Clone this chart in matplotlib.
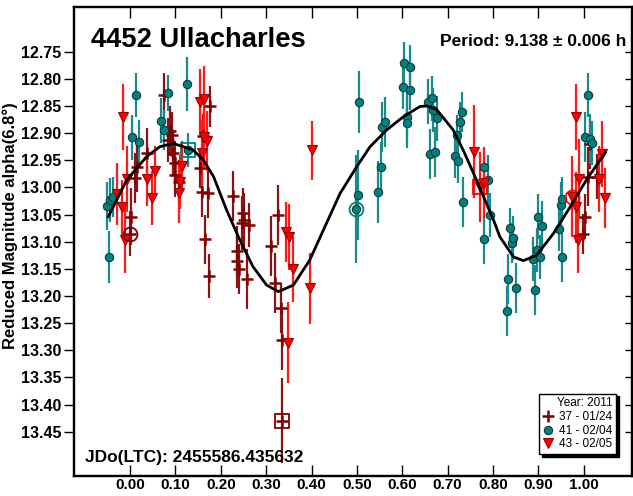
import matplotlib.pyplot as plt
from matplotlib.lines import Line2D

plt.rcParams['font.family'] = ['Liberation Sans', 'DejaVu Sans']

# session 37 - 01/24 (dark red plus)
s37_phase = [0.000, 0.002, 0.011, 0.015, 0.037, 0.075, 0.088, 0.092, 0.084, 0.099,
             0.095, 0.099, 0.108, 0.154, 0.160, 0.176, 0.158, 0.171, 0.165, 0.173,
             0.228, 0.248, 0.251, 0.246, 0.263, 0.235, 0.236, 0.241, 0.257, 0.310,
             0.327, 0.320, 0.332, 0.334, 0.336, 1.003, 0.999, 1.010, 1.028, 1.014]
s37_mag = [13.085, 13.054, 12.983, 12.962, 12.937, 12.830, 12.897, 12.903, 12.913, 12.956,
           12.937, 12.977, 12.990, 12.965, 12.905, 12.851, 13.008, 13.010, 13.096, 13.163,
           13.016, 13.048, 13.061, 13.066, 13.069, 13.117, 13.136, 13.151, 13.169, 13.108,
           13.051, 13.176, 13.223, 13.281, 13.430, 13.054, 13.086, 12.980, 12.980, 12.920]
s37_err = [0.041, 0.052, 0.046, 0.046, 0.046, 0.041, 0.046, 0.041, 0.041, 0.041,
           0.041, 0.041, 0.041, 0.037, 0.041, 0.037, 0.046, 0.046, 0.046, 0.041,
           0.046, 0.046, 0.050, 0.050, 0.041, 0.046, 0.050, 0.046, 0.055, 0.055,
           0.055, 0.055, 0.046, 0.055, 0.078, 0.041, 0.037, 0.055, 0.041, 0.046]
s37_circle = 0
s37_square = 34

# session 41 - 02/04 (teal circle)
s41_phase = [-0.050, -0.044, -0.038, -0.046, 0.013, 0.004, 0.019, 0.068, 0.083, 0.126,
             0.128, 0.075, 0.498, 0.502, 0.505, 0.547, 0.552, 0.555, 0.562, 0.601,
             0.604, 0.610, 0.610, 0.617, 0.617, 0.657, 0.661, 0.665, 0.672, 0.668,
             0.676, 0.716, 0.720, 0.722, 0.727, 0.731, 0.733, 0.781, 0.789, 0.793,
             0.781, 0.837, 0.841, 0.845, 0.834, 0.831, 0.851, 0.892, 0.889, 0.896,
             0.903, 0.900, 0.907, 0.946, 0.953, 0.949, 0.953, 1.003, 1.010, 1.014, 1.017]
s41_mag = [13.034, 13.023, 13.017, 13.128, 12.830, 12.908, 12.917, 12.877, 12.826, 12.810,
           12.931, 12.894, 13.040, 13.014, 12.843, 13.008, 12.963, 12.889, 12.880, 12.815,
           12.770, 12.870, 12.882, 12.778, 12.821, 12.842, 12.938, 12.836, 12.934, 12.857,
           12.873, 12.942, 12.903, 12.951, 12.879, 12.861, 13.027, 12.962, 12.986, 13.051,
           13.096, 13.075, 13.102, 13.093, 13.169, 13.227, 13.186, 13.189, 13.132, 13.115,
           13.128, 13.054, 13.072, 13.077, 13.129, 13.032, 13.022, 12.907, 12.830, 12.911, 12.918]
s41_err = [0.044, 0.041, 0.037, 0.048, 0.041, 0.041, 0.041, 0.041, 0.033, 0.050,
           0.031, 0.037, 0.100, 0.083, 0.057, 0.057, 0.046, 0.046, 0.046, 0.041,
           0.037, 0.046, 0.046, 0.041, 0.037, 0.041, 0.046, 0.041, 0.046, 0.041,
           0.041, 0.041, 0.037, 0.041, 0.037, 0.037, 0.046, 0.037, 0.046, 0.041,
           0.046, 0.037, 0.037, 0.041, 0.046, 0.046, 0.046, 0.046, 0.041, 0.041,
           0.041, 0.041, 0.046, 0.041, 0.046, 0.041, 0.041, 0.046, 0.041, 0.046, 0.041]
s41_circle = 12
s41_square = 10

# session 43 - 02/05 (red triangle)
s43_phase = [-0.015, -0.028, -0.018, -0.007, -0.010, 0.038, 0.048, 0.055, 0.108, 0.114,
             0.110, 0.154, 0.163, 0.169, 0.163, 0.158, 0.402, 0.344, 0.351, 0.360,
             0.397, 0.348, 0.758, 0.771, 0.983, 0.973, 0.990, 0.983, 0.988, 1.034,
             1.039, 1.047, 0.779]
s43_mag = [12.870, 13.013, 13.037, 12.985, 13.097, 12.985, 13.020, 12.970, 13.010, 12.960,
           12.990, 12.842, 12.838, 12.914, 12.907, 12.937, 12.932, 13.082, 13.091, 13.151,
           13.186, 13.286, 12.934, 12.999, 12.870, 13.017, 12.985, 13.037, 13.097, 12.985,
           12.938, 13.020, 12.992]
s43_err = [0.061, 0.057, 0.050, 0.061, 0.061, 0.050, 0.050, 0.046, 0.055, 0.046,
           0.050, 0.061, 0.061, 0.055, 0.055, 0.061, 0.055, 0.055, 0.061, 0.061,
           0.066, 0.074, 0.086, 0.064, 0.061, 0.074, 0.074, 0.066, 0.061, 0.061,
           0.061, 0.055, 0.064]
s43_circle = 25
s43_square = 23

# Fourier fit
fit_phase = [-0.048, -0.007, 0.037, 0.066, 0.095, 0.139, 0.162, 0.184, 0.213, 0.242,
             0.271, 0.301, 0.327, 0.360, 0.396, 0.433, 0.463, 0.4995, 0.529, 0.566,
             0.602, 0.639, 0.654, 0.676, 0.712, 0.734, 0.757, 0.779, 0.801, 0.815,
             0.845, 0.867, 0.896, 0.933, 0.970, 1.006, 1.047]
fit_mag = [13.054, 12.986, 12.943, 12.925, 12.919, 12.931, 12.950, 12.980, 13.042, 13.097,
           13.146, 13.180, 13.192, 13.180, 13.134, 13.066, 13.011, 12.962, 12.925, 12.894,
           12.870, 12.851, 12.850, 12.857, 12.894, 12.931, 12.974, 13.017, 13.060, 13.091,
           13.128, 13.135, 13.125, 13.085, 13.036, 12.986, 12.936]

yticks = [12.75, 12.80, 12.85, 12.90, 12.95, 13.00, 13.05, 13.10, 13.15, 13.20,
          13.25, 13.30, 13.35, 13.40, 13.45]
xticks = [0.0, 0.1, 0.2, 0.3, 0.4, 0.5, 0.6, 0.7, 0.8, 0.9, 1.0]

fig = plt.figure(figsize=(6.33, 4.96), dpi=100)
ax = fig.add_axes([74 / 633, 20 / 496, 558 / 633, 469 / 496])

styles = [
    (s37_phase, s37_mag, s37_err, s37_circle, s37_square,
     dict(marker='+', color='#800000', ms=8, mew=1.8), '#8b1515'),
    (s41_phase, s41_mag, s41_err, s41_circle, s41_square,
     dict(marker='o', color='#008080', mec='#0a3c3c', ms=6, mew=0.8), '#1a8a8a'),
    (s43_phase, s43_mag, s43_err, s43_circle, s43_square,
     dict(marker='v', color='#ff0000', mec='#a00000', ms=6.5, mew=0.8), '#ff1a1a'),
]

for ph, mg, er, ic, isq, mk, ecol in styles:
    ax.errorbar(ph, mg, yerr=er, fmt='none', ecolor=ecol, elinewidth=1.6, capsize=0, zorder=2)
    ax.plot(ph, mg, ls='none', zorder=3, **mk)
    ax.plot(ph[ic], mg[ic], ls='none', marker='o', ms=10, mfc='none', mec=mk['color'], mew=1.3, zorder=4)
    ax.plot(ph[isq], mg[isq], ls='none', marker='s', ms=10, mfc='none', mec=mk['color'], mew=1.3, zorder=4)

ax.plot(fit_phase, fit_mag, color='black', lw=2, zorder=5)

ax.set_xlim(-0.1234, 1.1062)
ax.set_ylim(13.5317, 12.6677)
ax.set_xticks(xticks)
ax.set_xticklabels(['%.2f' % v for v in xticks])
ax.set_yticks(yticks)
ax.set_yticklabels(['%.2f' % v for v in yticks])
ax.tick_params(axis='x', direction='in', length=8, width=1, top=True, pad=1.5,
               labelsize=11, colors='black')
ax.tick_params(axis='y', direction='out', length=7, width=1, pad=2, labelsize=11.5)
for lab in ax.get_xticklabels() + ax.get_yticklabels():
    lab.set_fontweight('bold')

# inward ticks on the right side
ax2 = ax.twinx()
ax2.set_ylim(ax.get_ylim())
ax2.set_yticks(yticks)
ax2.set_yticklabels([])
ax2.tick_params(axis='y', direction='in', length=5, width=1)

for a in (ax, ax2):
    for sp in a.spines.values():
        sp.set_linewidth(1.6)
        sp.set_color('black')

ax.set_ylabel('Reduced Magnitude alpha(6.8\u00b0)', fontsize=12, fontweight='bold')
ax.yaxis.set_label_coords(-0.1004, 0.533)

fig.text(90.7 / 633, 1 - 46.7 / 496, '4452 Ullacharles', fontsize=19.7, fontweight='bold',
         va='baseline', ha='left')
fig.text(626 / 633, 1 - 46 / 496, 'Period: 9.138 \u00b1 0.006 h', fontsize=12.5,
         fontweight='bold', va='baseline', ha='right')
fig.text(85 / 633, 1 - 461.7 / 496, 'JDo(LTC): 2455586.435632', fontsize=12.5,
         fontweight='bold', va='baseline', ha='left')

handles = [
    Line2D([], [], ls='none', marker='+', color='#800000', ms=8, mew=1.8),
    Line2D([], [], ls='none', marker='o', color='#008080', mec='#0a3c3c', ms=6, mew=0.8),
    Line2D([], [], ls='none', marker='v', color='#ff0000', mec='#a00000', ms=6.5, mew=0.8),
]
leg = ax2.legend(handles, ['37 - 01/24', '41 - 02/04', '43 - 02/05'], title='Year: 2011',
                 loc='lower right', bbox_to_anchor=(0.971, 0.047), fontsize=8.5,
                 title_fontsize=8.5, fancybox=False, shadow={'color': 'black', 'alpha': 1},
                 framealpha=1, edgecolor='black', handlelength=1.0, handletextpad=0.4,
                 borderpad=0.3, labelspacing=0.15, alignment='right', borderaxespad=0)
leg.get_frame().set_linewidth(1)

fig.savefig('out.png', dpi=100)
